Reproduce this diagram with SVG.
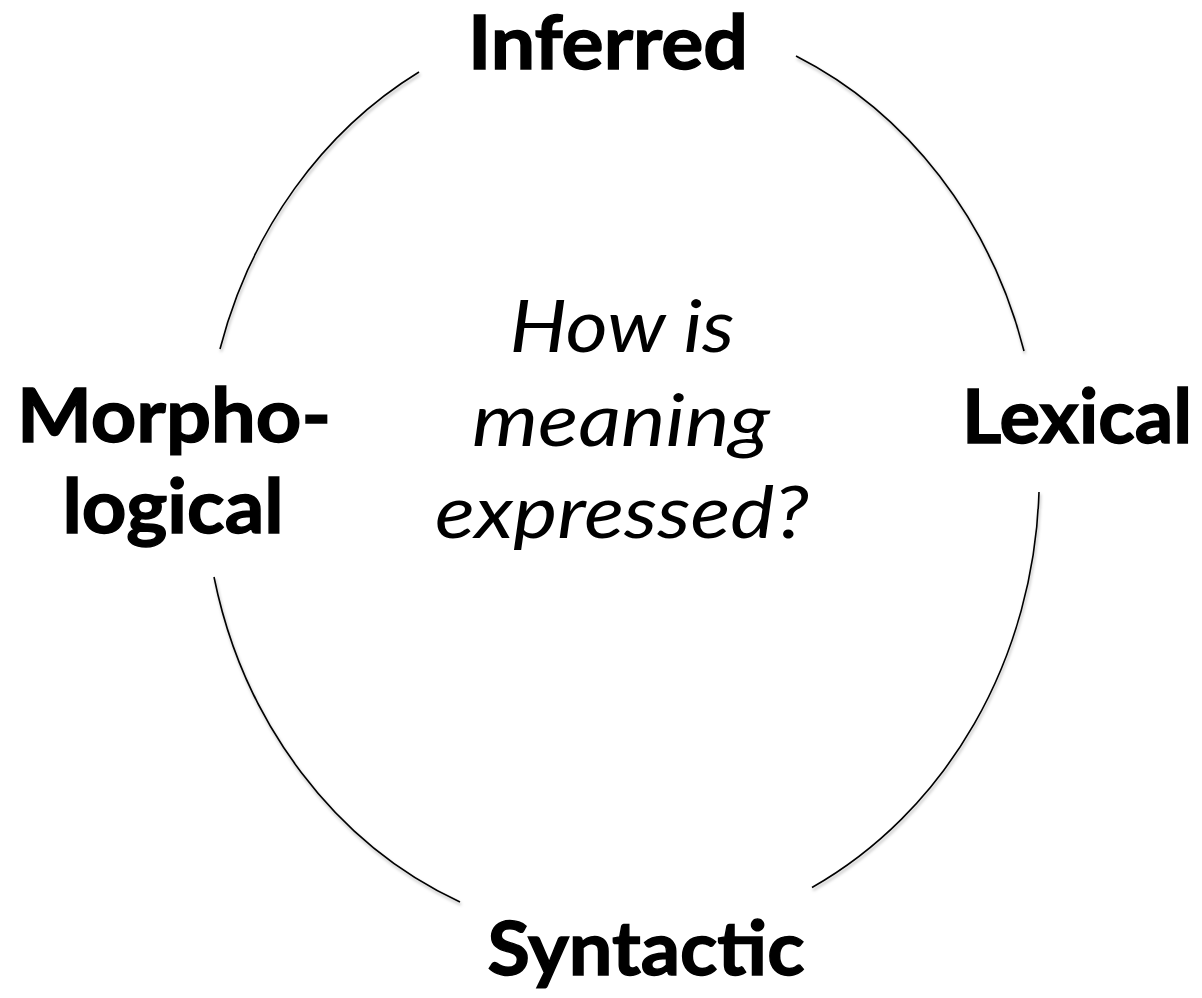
<svg xmlns="http://www.w3.org/2000/svg" width="1202" height="998" viewBox="0 0 1202 998">
  <style>
    .arc { fill: none; stroke: #000; stroke-width: 1.6; filter: url(#shadow); }
    .lbl { font-family: Lato, "Open Sans", "Liberation Sans", sans-serif; font-weight: bold; font-size: 75px; fill: #000; stroke: #000; stroke-width: 1.4; text-anchor: middle; }
    .q { font-family: Lato, "Open Sans", "Liberation Sans", sans-serif; font-style: italic; font-size: 71px; fill: #000; text-anchor: middle; }
  </style>
  <defs>
    <filter id="shadow" x="-10%" y="-10%" width="120%" height="120%">
      <feDropShadow dx="1" dy="2.5" stdDeviation="1.5" flood-color="#000" flood-opacity="0.3"/>
    </filter>
  </defs>
  <rect width="1202" height="998" fill="#fff"/>
  <g id="connectors">
    <path class="arc" d="M 796 56 A 418 462 0 0 1 1024 351"/>
    <path class="arc" d="M 1039 492 A 418 462 0 0 1 812 887.5"/>
    <path class="arc" d="M 460 902 A 418 462 0 0 1 214 577"/>
    <path class="arc" d="M 220 349 A 418 462 0 0 1 419 72"/>
  </g>
  <g id="node-inferred">
    <text class="lbl" x="608" y="69" textLength="280" lengthAdjust="spacingAndGlyphs">Inferred</text>
  </g>
  <g id="node-lexical">
    <text class="lbl" x="1077" y="443" textLength="230" lengthAdjust="spacingAndGlyphs">Lexical</text>
  </g>
  <g id="node-syntactic">
    <text class="lbl" x="646" y="975" textLength="317" lengthAdjust="spacingAndGlyphs">Syntactic</text>
  </g>
  <g id="node-morphological">
    <text class="lbl" x="174" y="442" textLength="314" lengthAdjust="spacingAndGlyphs">Morpho-</text>
    <text class="lbl" x="173" y="533" textLength="221" lengthAdjust="spacingAndGlyphs">logical</text>
  </g>
  <g id="node-center">
    <text class="q" x="622" y="352" textLength="225" lengthAdjust="spacingAndGlyphs">How is</text>
    <text class="q" x="621" y="446" textLength="298" lengthAdjust="spacingAndGlyphs">meaning</text>
    <text class="q" x="622" y="538" textLength="374" lengthAdjust="spacingAndGlyphs">expressed?</text>
  </g>
</svg>
